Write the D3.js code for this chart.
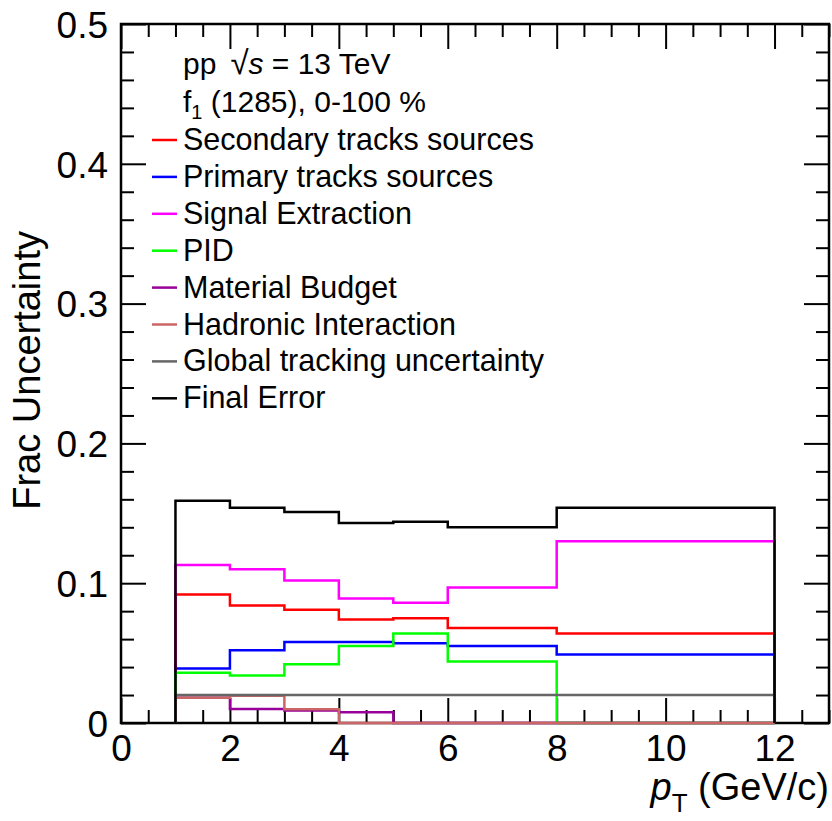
<!DOCTYPE html>
<html>
<head>
<meta charset="utf-8">
<script src="https://cdn.jsdelivr.net/npm/d3@7"></script>
<style>
  html, body { margin: 0; padding: 0; background: #fff; }
  svg { display: block; }
  text { font-family: "Liberation Sans", Arial, Helvetica, sans-serif; fill: #000; }
</style>
</head>
<body>
<svg id="chart" width="832" height="821"></svg>
<script>
// pT bin edges (GeV/c)
const binEdges = [1, 2, 3, 4, 5, 6, 8, 12];

// Fractional systematic uncertainty per pT bin, one array per source
const secondaryTracks   = [0.092, 0.084, 0.081, 0.074, 0.075, 0.068, 0.064];
const primaryTracks     = [0.039, 0.052, 0.058, 0.058, 0.057, 0.055, 0.049];
const signalExtraction  = [0.113, 0.110, 0.102, 0.089, 0.086, 0.097, 0.130];
const pid               = [0.036, 0.034, 0.042, 0.055, 0.064, 0.044, 0.000];
const materialBudget    = [0.018, 0.010, 0.009, 0.0077, 0.000, 0.000, 0.000];
const hadronicInteract  = [0.018, 0.0195, 0.0098, 0.000, 0.000, 0.000, 0.000];
const globalTracking    = [0.020, 0.020, 0.020, 0.020, 0.020, 0.020, 0.020];
const finalError        = [0.159, 0.154, 0.151, 0.143, 0.144, 0.140, 0.154];

const seriesNames = [
  "Secondary tracks sources",
  "Primary tracks sources",
  "Signal Extraction",
  "PID",
  "Material Budget",
  "Hadronic Interaction",
  "Global tracking uncertainty",
  "Final Error"
];
const seriesColors = ["#ff0000", "#0000ff", "#ff00ff", "#00ff00", "#990099", "#cc6666", "#666666", "#000000"];
const seriesValues = [secondaryTracks, primaryTracks, signalExtraction, pid,
                      materialBudget, hadronicInteract, globalTracking, finalError];

// Axis ranges and ticks
const xDomain = [0, 13];
const yDomain = [0, 0.5];
const xMajorTicks = [0, 2, 4, 6, 8, 10, 12];
const yMajorTicks = [0, 0.1, 0.2, 0.3, 0.4, 0.5];
const yTickLabels = ["0", "0.1", "0.2", "0.3", "0.4", "0.5"];

const frame = { left: 121, right: 829, top: 24, bottom: 723 };
const svg = d3.select("#chart");

const x = d3.scaleLinear().domain(xDomain).range([frame.left, frame.right]);
const y = d3.scaleLinear().domain(yDomain).range([frame.bottom, frame.top]);

const majorLen = 25, minorLen = 13;
const xMinor = d3.range(0, 13.001, 0.5).filter(v => Math.abs(v / 2 - Math.round(v / 2)) > 1e-6);
const yMinor = d3.range(0, 0.5001, 0.02).filter(v => Math.abs(v * 10 - Math.round(v * 10)) > 1e-6);

function styleAxis(g) {
  g.select(".domain").remove();
  g.selectAll(".tick line").attr("stroke", "#000").attr("stroke-width", 2);
}

// Bottom axis: major with labels, then minor
const gxB = svg.append("g").attr("transform", `translate(0,${frame.bottom})`)
  .call(d3.axisBottom(x).tickValues(xMajorTicks).tickSize(-majorLen).tickFormat(d3.format("d")))
  .call(styleAxis);
gxB.selectAll(".tick text")
  .attr("y", 38).attr("dy", "0")
  .style("font-size", "37px")
  .attr("font-family", null);
svg.append("g").attr("transform", `translate(0,${frame.bottom})`)
  .call(d3.axisBottom(x).tickValues(xMinor).tickSize(-minorLen).tickFormat(""))
  .call(styleAxis);

// Top axis ticks
svg.append("g").attr("transform", `translate(0,${frame.top})`)
  .call(d3.axisTop(x).tickValues(xMajorTicks).tickSize(-majorLen).tickFormat(""))
  .call(styleAxis);
svg.append("g").attr("transform", `translate(0,${frame.top})`)
  .call(d3.axisTop(x).tickValues(xMinor).tickSize(-minorLen).tickFormat(""))
  .call(styleAxis);

// Left axis: major with labels, then minor
const gyL = svg.append("g").attr("transform", `translate(${frame.left},0)`)
  .call(d3.axisLeft(y).tickValues(yMajorTicks).tickSize(-majorLen)
        .tickFormat((d, i) => yTickLabels[i]))
  .call(styleAxis);
gyL.selectAll(".tick text")
  .attr("x", -13).attr("dy", "0.36em")
  .style("font-size", "37px")
  .attr("font-family", null);
svg.append("g").attr("transform", `translate(${frame.left},0)`)
  .call(d3.axisLeft(y).tickValues(yMinor).tickSize(-minorLen).tickFormat(""))
  .call(styleAxis);

// Right axis ticks
svg.append("g").attr("transform", `translate(${frame.right},0)`)
  .call(d3.axisRight(y).tickValues(yMajorTicks).tickSize(-majorLen).tickFormat(""))
  .call(styleAxis);
svg.append("g").attr("transform", `translate(${frame.right},0)`)
  .call(d3.axisRight(y).tickValues(yMinor).tickSize(-minorLen).tickFormat(""))
  .call(styleAxis);

// Frame
svg.append("rect")
  .attr("x", frame.left).attr("y", frame.top)
  .attr("width", frame.right - frame.left).attr("height", frame.bottom - frame.top)
  .attr("fill", "none").attr("stroke", "#000").attr("stroke-width", 2.5);

// Histogram outlines (step shape, closed down to zero at the outer edges)
const line = d3.line().x(d => x(d[0])).y(d => y(d[1]));
function stepPoints(vals) {
  const pts = [[binEdges[0], 0]];
  vals.forEach((v, i) => { pts.push([binEdges[i], v]); pts.push([binEdges[i + 1], v]); });
  pts.push([binEdges[binEdges.length - 1], 0]);
  return pts;
}
svg.append("g").selectAll("path")
  .data(seriesValues)
  .join("path")
  .attr("d", d => line(stepPoints(d)))
  .attr("fill", "none")
  .attr("stroke", (d, i) => seriesColors[i])
  .attr("stroke-width", 2.5)
  .attr("stroke-linejoin", "miter");

// Header text
const header = svg.append("g").style("font-size", "30px");
const h1 = header.append("text").attr("x", 183).attr("y", 74);
h1.append("tspan").text("pp");
h1.append("tspan").attr("dx", 14).style("font-size", "33px").text("\u221A");
h1.append("tspan").attr("font-style", "italic").text("s");
h1.append("tspan").text(" = 13 TeV");
const h2 = header.append("text").attr("x", 183).attr("y", 112);
h2.append("tspan").text("f");
h2.append("tspan").attr("dy", 7).style("font-size", "20px").text("1");
h2.append("tspan").attr("dy", -7).text(" (1285), 0-100 %");

// Legend
const legendTop = 150, legendStep = 36.9;
const legend = svg.append("g");
const rows = legend.selectAll("g").data(seriesNames).join("g")
  .attr("transform", (d, i) => `translate(0,${legendTop + i * legendStep})`);
rows.append("line")
  .attr("x1", 152).attr("x2", 177).attr("y1", -10).attr("y2", -10)
  .attr("stroke", (d, i) => seriesColors[i]).attr("stroke-width", 2.5);
rows.append("text").attr("x", 183).attr("y", 0)
  .style("font-size", "30.5px").text(d => d);

// Axis titles
const xt = svg.append("text").attr("x", 829).attr("y", 800)
  .attr("text-anchor", "end").style("font-size", "38px");
xt.append("tspan").attr("font-style", "italic").text("p");
xt.append("tspan").attr("dy", 12).style("font-size", "26px").text("T");
xt.append("tspan").attr("dy", -12).text(" (GeV/c)");

svg.append("text")
  .attr("transform", `translate(40,${frame.top + 207}) rotate(-90)`)
  .attr("text-anchor", "end").style("font-size", "38px")
  .text("Frac Uncertainty");
</script>
</body>
</html>
